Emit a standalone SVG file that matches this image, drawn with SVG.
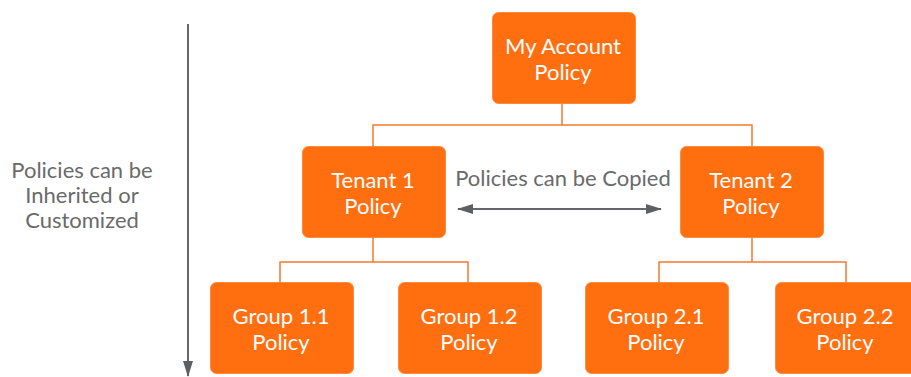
<svg xmlns="http://www.w3.org/2000/svg" width="911" height="377" viewBox="0 0 911 377">
  <style>
    .node rect { fill: #FF6E0F; stroke: #FF8A3D; stroke-width: 1; }
    .node text { fill: #FFFFFF; font-family: Lato, "Open Sans", sans-serif; font-size: 22px; text-anchor: middle; }
    .link { fill: none; stroke: #F47A30; stroke-width: 1.5; }
    .note { fill: #6A6A6A; font-family: Lato, "Open Sans", sans-serif; font-size: 22px; text-anchor: middle; }
    .grey { stroke: #66676B; stroke-width: 2; fill: none; }
  </style>
  <defs>
    <marker id="head" viewBox="0 0 16 10" refX="15" refY="5" markerWidth="16" markerHeight="10" markerUnits="userSpaceOnUse" orient="auto-start-reverse">
      <path d="M0,0 L16,5 L0,10 Z" fill="#5E5F63"/>
    </marker>
  </defs>
  <rect width="911" height="377" fill="#FFFFFF"/>

  <g id="connectors">
    <path class="link" d="M562,104 V125 M373,146 V125 H752 V146"/>
    <path class="link" d="M373,238 V262 M280,282 V262 H468 V282"/>
    <path class="link" d="M752,238 V262 M659,282 V262 H846 V282"/>
    <line class="grey" x1="188" y1="24" x2="188" y2="376" marker-end="url(#head)"/>
    <line class="grey" x1="458" y1="209" x2="661" y2="209" marker-start="url(#head)" marker-end="url(#head)"/>
  </g>

  <g id="note-inherit">
    <text class="note" x="82" y="178">Policies can be</text>
    <text class="note" x="82" y="203">Inherited or</text>
    <text class="note" x="82" y="228">Customized</text>
  </g>
  <g id="note-copy">
    <text class="note" x="563" y="186">Policies can be Copied</text>
  </g>

  <g id="account" class="node">
    <rect x="492.5" y="12.5" width="143" height="91" rx="6"/>
    <text x="563" y="54">My Account</text>
    <text x="563" y="80">Policy</text>
  </g>
  <g id="tenant1" class="node">
    <rect x="302.5" y="146.5" width="143" height="91" rx="6"/>
    <text x="373" y="188">Tenant 1</text>
    <text x="373" y="214">Policy</text>
  </g>
  <g id="tenant2" class="node">
    <rect x="680.5" y="146.5" width="143" height="91" rx="6"/>
    <text x="751" y="188">Tenant 2</text>
    <text x="751" y="214">Policy</text>
  </g>
  <g id="group11" class="node">
    <rect x="210.5" y="282.5" width="143" height="91" rx="6"/>
    <text x="281" y="324">Group 1.1</text>
    <text x="281" y="350">Policy</text>
  </g>
  <g id="group12" class="node">
    <rect x="398.5" y="282.5" width="143" height="91" rx="6"/>
    <text x="469" y="324">Group 1.2</text>
    <text x="469" y="350">Policy</text>
  </g>
  <g id="group21" class="node">
    <rect x="585.5" y="282.5" width="143" height="91" rx="6"/>
    <text x="656" y="324">Group 2.1</text>
    <text x="656" y="350">Policy</text>
  </g>
  <g id="group22" class="node">
    <rect x="775.5" y="282.5" width="143" height="91" rx="6"/>
    <text x="845" y="324">Group 2.2</text>
    <text x="845" y="350">Policy</text>
  </g>
</svg>
